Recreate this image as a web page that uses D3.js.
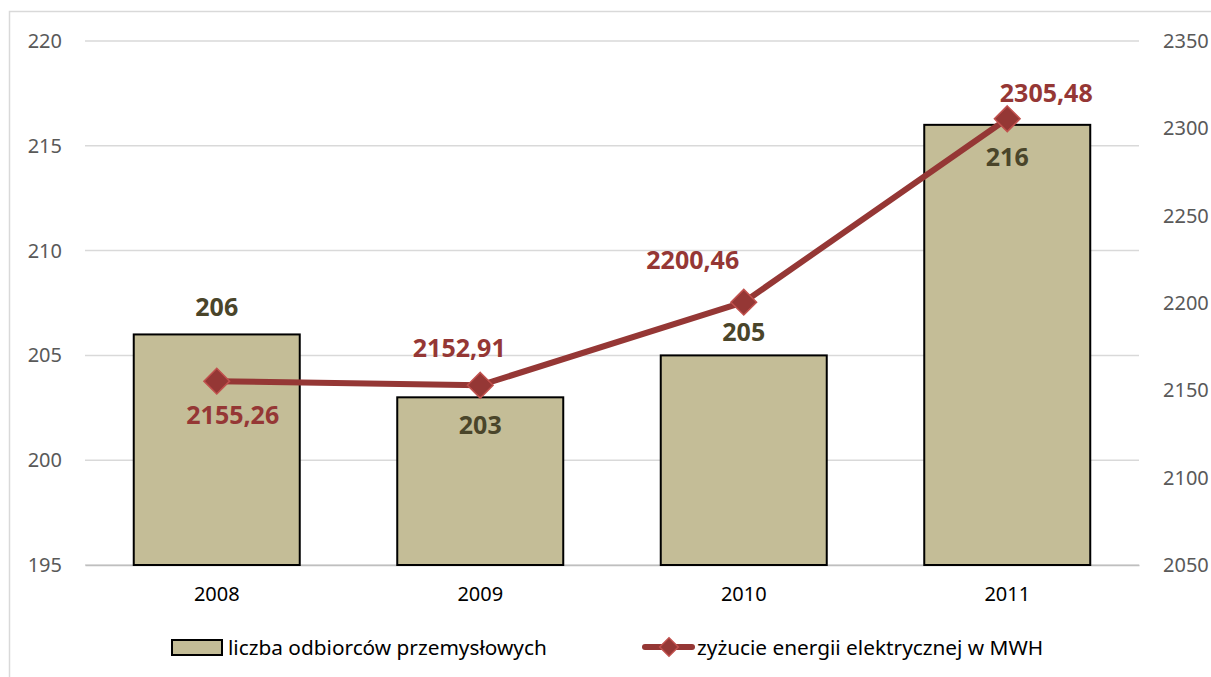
<!DOCTYPE html>
<html lang="pl">
<head>
<meta charset="UTF-8">
<title>Odbiorcy przemysłowi</title>
<script src="https://d3js.org/d3.v7.min.js"></script>
<style>
    body { margin: 0; background: #fff; }
    text { font-family: "Noto Sans", "DejaVu Sans", sans-serif; }
</style>
</head>
<body>
<svg id="chart" width="1211" height="677"></svg>
<script>
    // data
    const years = ["2008", "2009", "2010", "2011"];
    const customers = [206, 203, 205, 216];
    const energy = [2155.26, 2152.91, 2200.46, 2305.48];
    const leftTicks = [195, 200, 205, 210, 215, 220];
    const rightTicks = [2050, 2100, 2150, 2200, 2250, 2300, 2350];
    const seriesNames = ["liczba odbiorców przemysłowych", "zyżucie energii elektrycznej w MWH"];

    const svg = d3.select("#chart");
    const plot = { left: 85, right: 1139, top: 41, bottom: 565 };

    // outer frame
    svg.append("rect")
        .attr("x", 9.5).attr("y", 11.5)
        .attr("width", 1300).attr("height", 800)
        .attr("fill", "none").attr("stroke", "#d9d9d9").attr("stroke-width", 1.5);

    const x = d3.scaleBand().domain(years).range([plot.left, plot.right]).paddingInner(0.37).paddingOuter(0.185);
    const yL = d3.scaleLinear().domain([195, 220]).range([plot.bottom, plot.top]);
    const yR = d3.scaleLinear().domain([2050, 2350]).range([plot.bottom, plot.top]);
    const cx = d => x(d) + x.bandwidth() / 2;

    // gridlines
    svg.append("g").selectAll("line").data(leftTicks).join("line")
        .attr("x1", plot.left).attr("x2", plot.right)
        .attr("y1", d => yL(d)).attr("y2", d => yL(d))
        .attr("stroke", "#d9d9d9").attr("stroke-width", 1.5);

    // left axis
    const gl = svg.append("g").attr("transform", `translate(${plot.left},0)`)
        .call(d3.axisLeft(yL).tickValues(leftTicks).tickSize(0).tickPadding(23));
    gl.select(".domain").remove();
    gl.selectAll("text").attr("font-size", 20).attr("fill", "#595959");

    // right axis
    const gr = svg.append("g").attr("transform", `translate(${plot.right},0)`)
        .call(d3.axisRight(yR).tickValues(rightTicks).tickFormat(d3.format("d")).tickSize(0).tickPadding(24));
    gr.select(".domain").remove();
    gr.selectAll("text").attr("font-size", 20).attr("fill", "#595959");

    // x axis
    const gx = svg.append("g").attr("transform", `translate(0,${plot.bottom})`)
        .call(d3.axisBottom(x).tickSize(0).tickPadding(22));
    gx.select(".domain").attr("stroke", "#bfbfbf").attr("stroke-width", 1.5);
    gx.selectAll("text").attr("font-size", 20).attr("fill", "#000");

    // bars
    svg.append("g").selectAll("rect").data(customers).join("rect")
        .attr("x", (d, i) => x(years[i]))
        .attr("y", d => yL(d))
        .attr("width", x.bandwidth())
        .attr("height", d => yL(195) - yL(d))
        .attr("fill", "#c4bd97").attr("stroke", "#000").attr("stroke-width", 2);

    // bar labels: above or inside the bar as in the original
    const barLabelDy = [-28, 27, -24, 31];
    svg.append("g").selectAll("text").data(customers).join("text")
        .attr("x", (d, i) => cx(years[i]))
        .attr("y", (d, i) => yL(d) + barLabelDy[i])
        .attr("text-anchor", "middle").attr("dominant-baseline", "central")
        .attr("font-size", 25).attr("font-weight", "bold").attr("fill", "#4a452a")
        .text(d => d);

    // line
    const line = d3.line().x((d, i) => cx(years[i])).y(d => yR(d));
    svg.append("path").datum(energy)
        .attr("d", line).attr("fill", "none")
        .attr("stroke", "#953735").attr("stroke-width", 6).attr("stroke-linejoin", "round");

    const diamond = d3.symbol().type(d3.symbolDiamond2).size(420);
    svg.append("g").selectAll("path").data(energy).join("path")
        .attr("transform", (d, i) => `translate(${cx(years[i])},${yR(d)})`)
        .attr("d", diamond)
        .attr("fill", "#953735").attr("stroke", "#c0504d").attr("stroke-width", 1.5);

    const fmt = v => d3.format(".2f")(v).replace(".", ",");
    const lineLabelOff = [[16, 33], [-21, -38], [-51, -43], [39, -27]];
    svg.append("g").selectAll("text").data(energy).join("text")
        .attr("x", (d, i) => cx(years[i]) + lineLabelOff[i][0])
        .attr("y", (d, i) => yR(d) + lineLabelOff[i][1])
        .attr("text-anchor", "middle").attr("dominant-baseline", "central")
        .attr("font-size", 25).attr("font-weight", "bold").attr("fill", "#953735")
        .text(fmt);

    // legend
    const lg = svg.append("g");
    lg.append("rect").attr("x", 172).attr("y", 640).attr("width", 50).attr("height", 15)
        .attr("fill", "#c4bd97").attr("stroke", "#000").attr("stroke-width", 2);
    lg.append("text").attr("x", 228).attr("y", 647).attr("dominant-baseline", "central")
        .attr("font-size", 20.8).attr("fill", "#000").text(seriesNames[0]);

    lg.append("line").attr("x1", 645).attr("x2", 692).attr("y1", 647).attr("y2", 647)
        .attr("stroke", "#953735").attr("stroke-width", 6).attr("stroke-linecap", "round");
    lg.append("path").attr("transform", "translate(669,647)")
        .attr("d", d3.symbol().type(d3.symbolDiamond2).size(220))
        .attr("fill", "#953735").attr("stroke", "#c0504d").attr("stroke-width", 1.5);
    lg.append("text").attr("x", 697).attr("y", 647).attr("dominant-baseline", "central")
        .attr("font-size", 20.8).attr("fill", "#000").text(seriesNames[1]);
</script>
</body>
</html>
